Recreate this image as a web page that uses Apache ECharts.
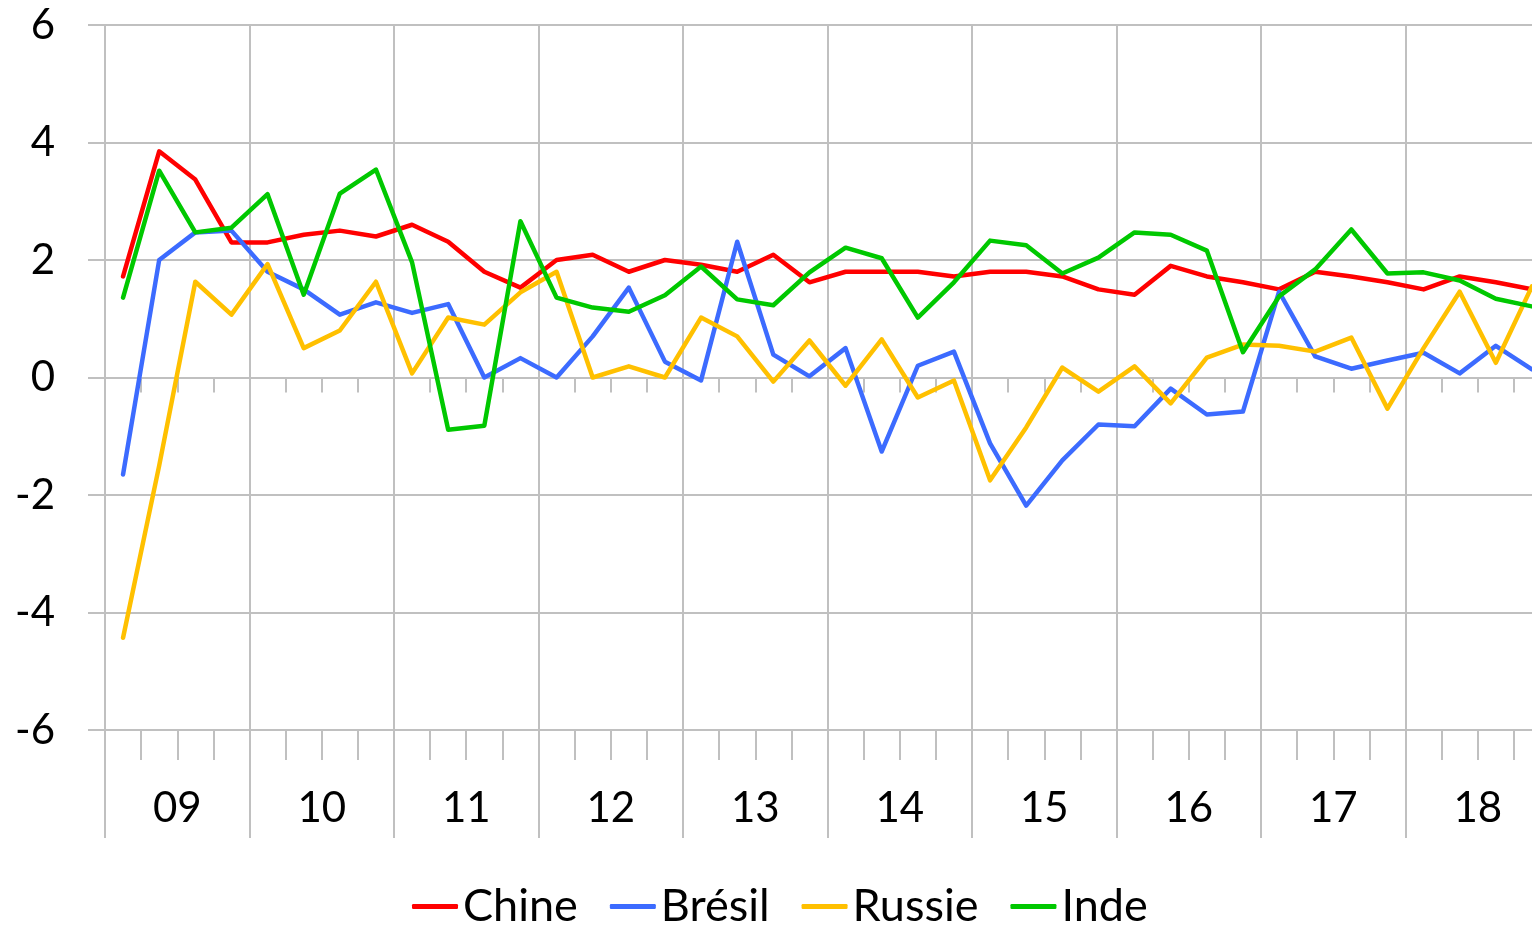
<!DOCTYPE html>
<html>
<head>
<meta charset="utf-8">
<script src="https://cdn.jsdelivr.net/npm/echarts@6/dist/echarts.min.js"></script>
<style>
html,body{margin:0;padding:0;background:#fff;}
#chart{width:1532px;height:925px;}
</style>
</head>
<body>
<div id="chart"></div>
<script>
var years = ['09','10','11','12','13','14','15','16','17','18'];
var quarterNames = ['T1','T2','T3','T4'];
var quarters = [];
years.forEach(function(y){ quarterNames.forEach(function(q){ quarters.push(y + q); }); });

var yTicks = [-6, -4, -2, 0, 2, 4, 6];

var chine = [1.72,3.85,3.37,2.3,2.3,2.43,2.5,2.4,2.6,2.31,1.8,1.53,2.0,2.09,1.8,2.0,1.92,1.8,2.09,1.62,1.8,1.8,1.8,1.72,1.8,1.8,1.72,1.5,1.41,1.9,1.72,1.62,1.5,1.8,1.72,1.62,1.5,1.72,1.62,1.5];
var bresil = [-1.65,2.0,2.47,2.5,1.8,1.5,1.07,1.28,1.1,1.25,0.0,0.33,0.0,0.7,1.53,0.27,-0.05,2.31,0.39,0.02,0.5,-1.26,0.2,0.44,-1.12,-2.18,-1.41,-0.8,-0.83,-0.19,-0.63,-0.58,1.46,0.36,0.15,0.29,0.42,0.07,0.54,0.14];
var russie = [-4.43,-1.5,1.63,1.07,1.93,0.5,0.8,1.63,0.07,1.02,0.9,1.45,1.8,0.0,0.19,0.0,1.02,0.7,-0.07,0.63,-0.14,0.65,-0.34,-0.05,-1.75,-0.85,0.17,-0.24,0.19,-0.44,0.34,0.56,0.54,0.44,0.68,-0.53,0.5,1.46,0.25,1.55];
var inde = [1.36,3.52,2.47,2.55,3.12,1.41,3.13,3.54,1.96,-0.89,-0.82,2.66,1.36,1.19,1.12,1.4,1.89,1.33,1.23,1.79,2.21,2.03,1.02,1.62,2.33,2.25,1.77,2.04,2.47,2.43,2.16,0.43,1.38,1.84,2.52,1.77,1.79,1.65,1.34,1.21];

var seriesNames = ['Chine','Brésil','Russie','Inde'];
var seriesColors = ['#FF0000','#3C6BFF','#FFC000','#00C800'];
var seriesData = [chine, bresil, russie, inde];

var GRID = '#C0C0C0';
var FONT = 'Lato';

var chart = echarts.init(document.getElementById('chart'), null, {renderer:'canvas'});
var option = {
  animation: false,
  backgroundColor: '#fff',
  textStyle: {fontFamily: FONT},
  grid: {left: 105, top: 25, width: 1445, height: 705, containLabel: false, outerBoundsMode: 'none'},
  legend: {
    left: 407, top: 879,
    icon: 'roundRect',
    itemWidth: 46, itemHeight: 5,
    itemGap: 32,
    textStyle: {fontFamily: FONT, fontSize: 45, color: '#000'},
    data: seriesNames
  },
  xAxis: [
    {
      type: 'category', data: quarters, boundaryGap: true, position: 'bottom',
      axisLine: {show: true, onZero: false, lineStyle: {color: GRID, width: 2}},
      axisTick: {show: true, interval: 0, length: 30, lineStyle: {color: GRID, width: 2}},
      axisLabel: {show: false},
      splitLine: {show: false}
    },
    {
      type: 'category', data: quarters, boundaryGap: true, position: 'top',
      axisLine: {show: true, onZero: true, lineStyle: {color: GRID, width: 2}},
      axisTick: {show: true, inside: true, interval: 0, length: 15, lineStyle: {color: GRID, width: 2}},
      axisLabel: {show: false},
      splitLine: {show: false}
    },
    {
      type: 'category', data: years, boundaryGap: true, position: 'bottom',
      axisLine: {show: false, onZero: false},
      axisTick: {show: true, interval: 0, length: 108, lineStyle: {color: GRID, width: 2}},
      axisLabel: {show: true, interval: 0, fontFamily: FONT, fontSize: 42, color: '#000', margin: 78, verticalAlign: 'middle'},
      splitLine: {show: true, interval: 0, lineStyle: {color: GRID, width: 2}}
    }
  ],
  yAxis: {
    type: 'value', min: yTicks[0], max: yTicks[yTicks.length-1], interval: 2,
    axisLine: {show: false},
    axisTick: {show: true, length: 17, lineStyle: {color: GRID, width: 2}},
    axisLabel: {fontFamily: FONT, fontSize: 42, color: '#000', margin: 50},
    splitLine: {show: true, lineStyle: {color: GRID, width: 2}}
  },
  series: seriesNames.map(function(n, i){
    return {
      name: n, type: 'line', xAxisIndex: 0, data: seriesData[i],
      symbol: 'none', smooth: false,
      lineStyle: {color: seriesColors[i], width: 4.5, cap: 'round', join: 'round'},
      itemStyle: {color: seriesColors[i]}
    };
  })
};
chart.setOption(option);
</script>
</body>
</html>
